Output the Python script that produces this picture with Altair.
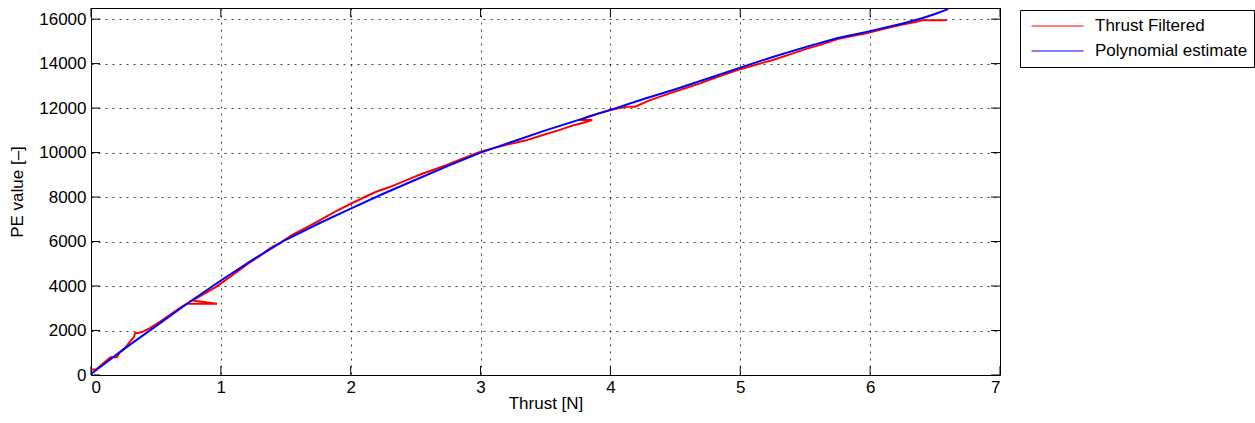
import altair as alt
import pandas as pd

# Thrust Filtered (measured) – ordered samples
red_x = [0.00, 0.04, 0.08, 0.12, 0.15, 0.20, 0.22, 0.26, 0.30, 0.33, 0.34, 0.37, 0.40, 0.45, 0.50,
         0.55, 0.60, 0.65, 0.70, 0.74, 0.97, 0.78, 0.84, 0.90, 0.96, 1.02, 1.08, 1.15, 1.22,
         1.30, 1.38, 1.46, 1.55, 1.65, 1.76, 1.88, 2.00, 2.10, 2.20, 2.30, 2.43, 2.55, 2.65,
         2.74, 2.85, 3.00, 3.10, 3.20, 3.35, 3.48, 3.60, 3.70, 3.77, 3.86, 3.78, 3.82, 3.90,
         4.00, 4.12, 4.19, 4.30, 4.45, 4.58, 4.69, 4.80, 4.90, 5.00, 5.12, 5.25, 5.40, 5.50,
         5.61, 5.75, 5.85, 5.97, 6.10, 6.23, 6.36, 6.40, 6.59]
red_y = [250, 250, 450, 650, 800, 800, 1000, 1200, 1500, 1700, 1880, 1900, 1950, 2100, 2280,
         2470, 2670, 2870, 3070, 3200, 3200, 3350, 3550, 3750, 3950, 4200, 4450, 4750, 5050,
         5350, 5700, 5950, 6300, 6600, 6950, 7350, 7700, 7980, 8250, 8450, 8760, 9050, 9250,
         9440, 9700, 10040, 10200, 10350, 10550, 10790, 11000, 11200, 11310, 11460, 11460, 11600, 11750,
         11910, 12060, 12060, 12350, 12650, 12900, 13110, 13350, 13550, 13750, 13950, 14160, 14450, 14650,
         14830, 15100, 15230, 15360, 15560, 15730, 15880, 15950, 15950]

# Polynomial estimate
blue_x = [0.0, 0.25, 0.5, 0.75, 1.0, 1.25, 1.5, 1.75, 2.0, 2.25, 2.5, 2.75, 3.0, 3.25, 3.5,
          3.75, 4.0, 4.25, 4.5, 4.75, 5.0, 5.25, 5.5, 5.75, 6.0, 6.25, 6.4, 6.5, 6.6]
blue_y = [50, 1150, 2200, 3250, 4250, 5200, 6080, 6800, 7480, 8150, 8780, 9400, 10000, 10500, 11000,
          11460, 11920, 12400, 12850, 13330, 13820, 14300, 14740, 15150, 15460, 15800, 16040, 16230, 16450]

x_ticks = [0, 1, 2, 3, 4, 5, 6, 7]
y_ticks = [0, 2000, 4000, 6000, 8000, 10000, 12000, 14000, 16000]
series = ["Thrust Filtered", "Polynomial estimate"]
colors = ["#ff0000", "#0000ff"]

FONT = "Liberation Sans"
W, H = 909, 367
X_DOM = [0, 7]
Y_DOM = [0, 16500]

red_df = pd.DataFrame({"x": red_x, "y": red_y, "i": range(len(red_x)), "s": series[0]})
blue_df = pd.DataFrame({"x": blue_x, "y": blue_y, "i": range(len(blue_x)), "s": series[1]})

xs = alt.Scale(domain=X_DOM, nice=False, zero=False)
ys = alt.Scale(domain=Y_DOM, nice=False, zero=False)
cs = alt.Scale(domain=series, range=colors)

x_axis = alt.Axis(values=x_ticks, title="Thrust [N]", ticks=False, domain=False,
                  grid=True, gridDash=[2, 5], gridColor="#000000", gridOpacity=0.75,
                  labelPadding=4, titlePadding=0, format="d")
y_axis = alt.Axis(values=y_ticks, title="PE value [\u2013]", ticks=False, domain=False,
                  grid=True, gridDash=[2, 5], gridColor="#000000", gridOpacity=0.75,
                  labelPadding=5, titlePadding=12, format="d")

legend = alt.Legend(title=None, orient="none", legendX=929, legendY=2,
                    strokeColor="#000000", fillColor="#ffffff", padding=6,
                    symbolType="stroke", symbolSize=2704, symbolStrokeWidth=1,
                    symbolOffset=5, clipHeight=20, rowPadding=5,
                    labelFontSize=17, labelFont=FONT, labelColor="#000000",
                    labelOffset=11, labelLimit=300)

red = alt.Chart(red_df).mark_line(strokeWidth=2, clip=True).encode(
    x=alt.X("x:Q", scale=xs, axis=x_axis),
    y=alt.Y("y:Q", scale=ys, axis=y_axis),
    order="i:Q",
    color=alt.Color("s:N", scale=cs, legend=legend),
)
blue = alt.Chart(blue_df).mark_line(strokeWidth=2, clip=True).encode(
    x=alt.X("x:Q", scale=xs),
    y=alt.Y("y:Q", scale=ys),
    order="i:Q",
    color=alt.Color("s:N", scale=cs, legend=legend),
)

xt = pd.DataFrame({"t": x_ticks})
yt = pd.DataFrame({"t": y_ticks})
tick_b = alt.Chart(xt).mark_rule(color="black", strokeWidth=1).encode(
    x=alt.X("t:Q", scale=xs), y=alt.value(H), y2=alt.value(H - 9))
tick_t = alt.Chart(xt).mark_rule(color="black", strokeWidth=1).encode(
    x=alt.X("t:Q", scale=xs), y=alt.value(0), y2=alt.value(9))
tick_l = alt.Chart(yt).mark_rule(color="black", strokeWidth=1).encode(
    y=alt.Y("t:Q", scale=ys), x=alt.value(0), x2=alt.value(9))
tick_r = alt.Chart(yt).mark_rule(color="black", strokeWidth=1).encode(
    y=alt.Y("t:Q", scale=ys), x=alt.value(W), x2=alt.value(W - 9))

chart = alt.layer(red, blue, tick_b, tick_t, tick_l, tick_r).properties(
    width=W, height=H,
    autosize=alt.AutoSizeParams(type="none"),
    padding={"left": 91, "top": 8, "right": 255, "bottom": 48},
    background="white",
).configure_view(stroke="#000000", strokeWidth=1).configure_axis(
    labelFont=FONT, labelFontSize=17, labelColor="#000000",
    titleFont=FONT, titleFontSize=17, titleColor="#000000", titleFontWeight="normal",
)

chart.save("out.html", embed_options={"renderer": "svg", "actions": False})
